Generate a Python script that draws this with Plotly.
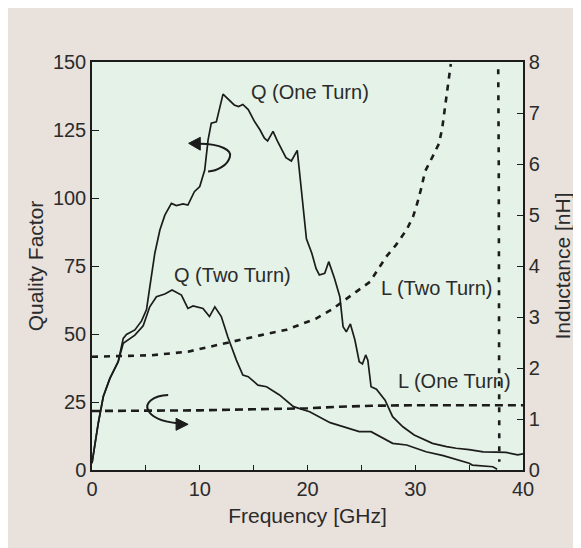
import plotly.graph_objects as go

# ---------------- data ----------------
freq_q1 = [0, 0.58, 1.05, 1.66, 2.43, 2.9, 3.2, 3.98, 4.6, 5.06, 5.37, 5.83, 6.3, 6.76, 7.37,
           7.83, 8.45, 8.9, 9.5, 10.0, 10.46, 10.77, 11.07, 11.54, 12.16, 12.6, 13.2, 13.6, 14.0,
           14.5, 15.1, 15.6, 16.0, 16.3, 16.8, 17.2, 17.6, 18.0, 18.5, 18.8, 19.05, 19.3, 19.6,
           19.9, 20.4, 20.8, 21.1, 21.6, 21.97, 22.5, 23.0, 23.3, 23.6, 23.98, 24.4, 24.8, 25.1,
           25.4, 25.6, 25.9, 26.4, 27.2, 27.9, 28.85, 29.9, 30.8, 31.6, 32.9, 33.8, 35.0, 36.3,
           37.5, 38.4, 39.5, 40.0]
q_one = [2.5, 17.2, 27, 33.7, 39.8, 48.4, 49.8, 51.5, 54.8, 59.0, 67.4, 79.7, 88.2, 93.7, 98,
         97.2, 97.8, 97.4, 102.3, 104.2, 110.3, 121.3, 127.5, 128, 138.2, 136.5, 134.2, 133.6, 134.4,
         132.5, 128, 125, 122, 121, 124.5, 121, 118, 114.8, 113.6, 115.5, 117.5, 108, 97,
         85, 79.7, 74, 71.7, 72.3, 76.6, 70.5, 63.7, 52.7, 50.8, 53.7, 47.8, 39.8, 39,
         42.3, 40.4, 30.6, 29.7, 25.7, 19.6, 15.9, 12.9, 11.2, 9.8, 8.6, 8.0, 7.5, 6.7,
         6.6, 6.5, 5.6, 5.9]

freq_q2 = [0, 0.58, 1.05, 1.66, 2.43, 2.9, 3.98, 4.75, 5.36, 5.98, 6.76, 7.43, 8.3, 8.9, 9.38,
           10.3, 10.9, 11.4, 12.0, 12.6, 13.4, 14.0, 14.5, 15.4, 16.2, 17.4, 18.7, 20.2, 22.1,
           23.3, 24.8, 25.9, 27.9, 29.2, 31.0, 32.6, 34.1, 35.0, 35.3, 37.2, 37.6]
q_two = [2.5, 17.2, 27, 33.7, 39.8, 46.6, 49.6, 53.0, 60, 63.7, 64.7, 66.2, 64.3, 59.4, 60.3,
         59.4, 56.4, 60, 56.4, 49, 40.4, 34.9, 34.3, 31.2, 30.6, 27.6, 23.3, 21.4, 17.4,
         15.9, 14.1, 14.1, 9.8, 9.2, 6.7, 5.3, 3.7, 2.5, 1.8, 1.2, 0.3]

freq_l1 = [0, 5, 10, 15, 20, 23, 26, 30, 35, 40]
l_one = [1.157, 1.16, 1.17, 1.19, 1.21, 1.24, 1.26, 1.27, 1.27, 1.27]

freq_l2 = [0, 5.5, 8.9, 10.9, 13.85, 15.6, 18.05, 19.4, 20.8, 22.2, 23.45, 24.5, 25.8, 26.5,
           27.3, 28.2, 29.2, 29.8, 30.2, 30.6, 30.9, 31.6, 32.2, 32.5, 32.7, 32.9, 33.1, 33.3]
l_two = [2.22, 2.25, 2.32, 2.42, 2.56, 2.64, 2.75, 2.86, 2.97, 3.14, 3.33, 3.48, 3.69, 3.92,
         4.18, 4.41, 4.71, 4.97, 5.24, 5.56, 5.85, 6.14, 6.4, 6.7, 7.03, 7.32, 7.61, 7.96]

freq_l2_res = [37.7, 37.75, 37.8]
l_two_res = [7.86, 6.0, 0.16]

x_ticks = [0, 10, 20, 30, 40]
q_ticks = [0, 25, 50, 75, 100, 125, 150]
l_ticks = [0, 1, 2, 3, 4, 5, 6, 7, 8]

# ---------------- style ----------------
FONT = "Liberation Sans, Arial, Helvetica, sans-serif"
TXT = "#2b2b2b"
LINE = "#1c1c1c"
BEIGE = "#e8e1dc"
GREEN = "#e4f2e7"

W, H = 581, 548
ML, MR, MT, MB = 84, 66, 54, 86

fig = go.Figure()

fig.add_trace(go.Scatter(x=freq_q1, y=q_one, mode="lines", name="Q (One Turn)",
                         line=dict(color=LINE, width=1.7)))
fig.add_trace(go.Scatter(x=freq_q2, y=q_two, mode="lines", name="Q (Two Turn)",
                         line=dict(color=LINE, width=1.7)))
fig.add_trace(go.Scatter(x=freq_l1, y=l_one, mode="lines", name="L (One Turn)", yaxis="y2",
                         line=dict(color=LINE, width=2.6, dash="8px,5px")))
fig.add_trace(go.Scatter(x=freq_l2, y=l_two, mode="lines", name="L (Two Turn)", yaxis="y2",
                         line=dict(color=LINE, width=2.6, dash="6px,6px")))
fig.add_trace(go.Scatter(x=freq_l2_res, y=l_two_res, mode="lines", name="L (Two Turn)", yaxis="y2",
                         line=dict(color=LINE, width=2.6, dash="5px,8px")))

shapes = [
    # upper curved arrow (points to left axis)
    dict(type="path", xref="x", yref="y",
         path="M 10.0,119.9 C 12.0,119.8 13.0,117.5 12.8,115.2 C 12.6,112.0 11.6,109.9 10.77,109.7",
         line=dict(color=LINE, width=2)),
    dict(type="path", xref="x", yref="y",
         path="M 8.97,120.1 L 10.05,122.3 L 10.05,117.6 Z",
         fillcolor=LINE, line=dict(color=LINE, width=1)),
    # lower curved arrow (points to right axis)
    dict(type="path", xref="x", yref="y",
         path="M 7.07,27.6 C 5.6,27.4 4.9,24.5 5.2,22.1 C 5.5,19.4 6.5,17.8 7.9,17.2",
         line=dict(color=LINE, width=2)),
    dict(type="path", xref="x", yref="y",
         path="M 8.92,16.8 L 7.8,19.0 L 7.8,14.6 Z",
         fillcolor=LINE, line=dict(color=LINE, width=1)),
]

ann_font = dict(family=FONT, size=20, color=TXT)
annotations = [
    dict(x=20.2, y=139, text="Q (One Turn)", showarrow=False, xref="x", yref="y", font=ann_font),
    dict(x=13.0, y=71.7, text="Q (Two Turn)", showarrow=False, xref="x", yref="y", font=ann_font),
    dict(x=32.0, y=66.8, text="L (Two Turn)", showarrow=False, xref="x", yref="y", font=ann_font),
    dict(x=33.6, y=32.7, text="L (One Turn)", showarrow=False, xref="x", yref="y", font=ann_font),
]

tick_font = dict(family=FONT, size=20, color=TXT)
title_font = dict(family=FONT, size=21, color=TXT)

fig.update_layout(
    width=W, height=H,
    margin=dict(l=ML, r=MR, t=MT, b=MB, pad=0, autoexpand=False),
    paper_bgcolor=BEIGE,
    plot_bgcolor=GREEN,
    showlegend=False,
    shapes=shapes,
    annotations=annotations,
    xaxis=dict(range=[0, 40], tickvals=x_ticks, ticks="inside", ticklen=5, tickwidth=1.3,
               tickcolor=LINE, showline=True, linecolor=LINE, linewidth=1.5, mirror=True,
               showgrid=False, zeroline=False, tickfont=tick_font, automargin=False,
               minor=dict(dtick=5, ticks="inside", ticklen=5, tickwidth=1.3, tickcolor=LINE, showgrid=False),
               title=dict(text="Frequency [GHz]", font=title_font, standoff=10)),
    yaxis=dict(range=[0, 150], tickvals=q_ticks, ticks="inside", ticklen=7, tickwidth=1.3,
               tickcolor=LINE, showline=True, linecolor=LINE, linewidth=1.5,
               showgrid=False, zeroline=False, tickfont=tick_font, automargin=False,
               title=dict(text="Quality Factor", font=title_font, standoff=4)),
    yaxis2=dict(range=[0, 8], tickvals=l_ticks, ticks="inside", ticklen=6, tickwidth=1.3,
                tickcolor=LINE, showline=True, linecolor=LINE, linewidth=1.5, automargin=False,
                overlaying="y", side="right", showgrid=False, zeroline=False, tickfont=tick_font,
                title=dict(text="Inductance [nH]", font=title_font, standoff=16)),
)

fig.write_html("out.html")
